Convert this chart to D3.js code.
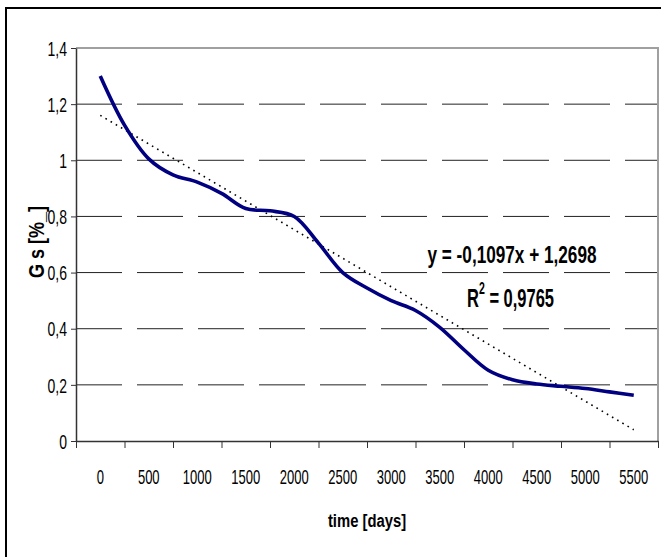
<!DOCTYPE html>
<html>
<head>
<meta charset="utf-8">
<script src="https://cdn.jsdelivr.net/npm/d3@7"></script>
<style>
  html, body { margin: 0; padding: 0; background: #fff; }
  svg { display: block; font-family: "Liberation Sans", Arial, sans-serif; }
</style>
</head>
<body>
<div id="chart"></div>
<script>
// measured series, every 250 days
const days = [0, 250, 500, 750, 1000, 1250, 1500, 1750, 2000, 2250, 2500, 2750,
              3000, 3250, 3500, 3750, 4000, 4250, 4500, 4750, 5000, 5250, 5500];
const gs = [1.30, 1.125, 1.005, 0.948, 0.922, 0.882, 0.828, 0.82, 0.80, 0.705, 0.60, 0.545,
            0.50, 0.465, 0.405, 0.325, 0.252, 0.218, 0.203, 0.195, 0.187, 0.175, 0.163];

// linear trend as drawn
const trendDays = [0, 5500];
const trendVals = [1.16, 0.04];

const xLabels = [0, 500, 1000, 1500, 2000, 2500, 3000, 3500, 4000, 4500, 5000, 5500];
const yTicks = [0, 0.2, 0.4, 0.6, 0.8, 1, 1.2, 1.4];
const eqText = "y = -0,1097x + 1,2698";
const r2Text = " = 0,9765";

const W = 661, H = 557;
const margin = { top: 48, right: 3, bottom: 116, left: 76 };
const plotW = W - margin.left - margin.right;
const plotH = H - margin.top - margin.bottom;

const svg = d3.select("#chart").append("svg")
  .attr("width", W).attr("height", H);

// outer chart frame (right/bottom fall outside the window)
svg.append("rect")
  .attr("x", 6).attr("y", 8).attr("width", 1000).attr("height", 1000)
  .attr("fill", "#fff").attr("stroke", "#000").attr("stroke-width", 2);

const g = svg.append("g").attr("transform", `translate(${margin.left},${margin.top})`);

// categories are 500 days wide, labels centred in each band
const x = d3.scaleLinear().domain([-250, 5750]).range([0, plotW]);
const y = d3.scaleLinear().domain([0, 1.4]).range([plotH, 0]);

const fmt = v => String(+v.toFixed(1)).replace(".", ",");

// gridlines
g.selectAll(".grid")
  .data(yTicks.filter(v => v > 0 && v < 1.4))
  .join("line")
  .attr("x1", 0).attr("x2", plotW)
  .attr("y1", d => y(d)).attr("y2", d => y(d))
  .attr("stroke", "#222").attr("stroke-width", 1)
  .attr("stroke-dasharray", "46,15");

// plot border top / right
g.append("path")
  .attr("d", `M0,${y(1.4)}H${plotW}V${plotH}`)
  .attr("fill", "none").attr("stroke", "#a0a0a0").attr("stroke-width", 2);

// y axis
const yAxis = g.append("g")
  .call(d3.axisLeft(y).tickValues(yTicks).tickSize(5).tickSizeOuter(0).tickFormat(fmt));
yAxis.select(".domain").attr("stroke", "#333").attr("stroke-width", 1.5);
yAxis.selectAll(".tick line").attr("stroke", "#333");
yAxis.selectAll(".tick text")
  .attr("font-size", 20).attr("fill", "#000")
  .attr("x", -9 / 0.7).attr("dy", "0.36em")
  .attr("transform", "scale(0.7,1)");

// x axis: ticks at category boundaries, labels in the middle
const bounds = xLabels.map(d => d - 250).concat([5750]);
const xAxis = g.append("g").attr("transform", `translate(0,${plotH})`)
  .call(d3.axisBottom(x).tickValues(bounds).tickSize(7).tickSizeOuter(0).tickFormat(""));
xAxis.select(".domain").attr("stroke", "#333").attr("stroke-width", 1.5);
xAxis.selectAll(".tick line").attr("stroke", "#333");

g.append("g").selectAll("text")
  .data(xLabels)
  .join("text")
  .attr("transform", d => `translate(${x(d)},${plotH + 43}) scale(0.62,1)`)
  .attr("text-anchor", "middle")
  .attr("font-size", 21)
  .text(d => d);

// trend line
g.append("path")
  .datum(trendDays.map((d, i) => [d, trendVals[i]]))
  .attr("d", d3.line().x(d => x(d[0])).y(d => y(d[1])))
  .attr("fill", "none").attr("stroke", "#000").attr("stroke-width", 1.6)
  .attr("stroke-dasharray", "1.6,4.4");

// data line
g.append("path")
  .datum(days.map((d, i) => [d, gs[i]]))
  .attr("d", d3.line().curve(d3.curveCatmullRom.alpha(0.5)).x(d => x(d[0])).y(d => y(d[1])))
  .attr("fill", "none").attr("stroke", "#000080").attr("stroke-width", 3.6)
  .attr("stroke-linejoin", "round");

// equation labels
svg.append("text")
  .attr("transform", "translate(512,263) scale(0.716,1)")
  .attr("text-anchor", "middle")
  .attr("font-size", 24).attr("font-weight", "bold")
  .text(eqText);

const r2 = svg.append("text")
  .attr("transform", "translate(467,307) scale(0.66,1)")
  .attr("font-size", 25).attr("font-weight", "bold");
r2.append("tspan").text("R");
r2.append("tspan").attr("dy", -13).attr("font-size", 16).text("2");
r2.append("tspan").attr("dy", 13).text(r2Text);

// axis titles
svg.append("text")
  .attr("transform", "translate(367,527) scale(0.78,1)")
  .attr("text-anchor", "middle")
  .attr("font-size", 19).attr("font-weight", "bold")
  .text("time [days]");

svg.append("text")
  .attr("transform", "translate(44,242) rotate(-90) scale(0.82,1)")
  .attr("text-anchor", "middle")
  .attr("font-size", 22).attr("font-weight", "bold")
  .text("G s  [%_]");
</script>
</body>
</html>
